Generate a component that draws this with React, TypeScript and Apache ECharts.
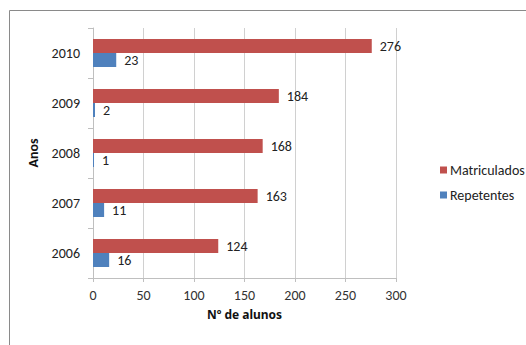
import React, { useEffect, useRef } from "react";
import * as echarts from "echarts";

const categories = ["2006", "2007", "2008", "2009", "2010"];
const matriculados = [124, 163, 168, 184, 276];
const repetentes = [16, 11, 1, 2, 23];
const xTicks = [0, 300, 50];

const FONT = "Carlito, Lato, 'Open Sans', sans-serif";

export default function App() {
  const ref = useRef<HTMLDivElement>(null);
  useEffect(() => {
    document.body.style.margin = "0";
    const chart = echarts.init(ref.current!, undefined, { renderer: "svg" });
    chart.setOption({
      animation: false,
      backgroundColor: "#ffffff",
      textStyle: { fontFamily: FONT },
      graphic: [
        {
          type: "rect",
          shape: { x: 9.5, y: 10.5, width: 530, height: 340 },
          style: { fill: "none", stroke: "#8a8a8a", lineWidth: 1 },
          silent: true,
        },
      ],
      grid: { left: 93, right: 130, top: 28, bottom: 67 },
      legend: {
        data: ["Matriculados", "Repetentes"],
        orient: "vertical",
        left: 435,
        top: 158,
        itemWidth: 7,
        itemHeight: 7,
        itemGap: 11,
        icon: "rect",
        textStyle: { fontFamily: FONT, fontSize: 14, color: "#222", padding: [0, 0, 0, -2] },
      },
      xAxis: {
        type: "value",
        min: xTicks[0],
        max: xTicks[1],
        interval: xTicks[2],
        name: "Nº de alunos",
        nameLocation: "middle",
        nameGap: 30,
        nameTextStyle: { fontFamily: "'Noto Sans', " + FONT, fontSize: 12, fontWeight: "bold", color: "#111" },
        axisLine: { show: true, lineStyle: { color: "#bfbfbf" } },
        axisTick: { show: true, length: 4, lineStyle: { color: "#bfbfbf" } },
        axisLabel: { fontFamily: FONT, fontSize: 14, color: "#333", margin: 10 },
        splitLine: { show: true, lineStyle: { color: "#d0d0d0" } },
      },
      yAxis: {
        type: "category",
        data: categories,
        name: "Anos",
        nameLocation: "middle",
        nameGap: 48,
        nameRotate: 90,
        nameTextStyle: { fontFamily: FONT, fontSize: 14, fontWeight: "bold", color: "#111" },
        axisLine: { show: true, lineStyle: { color: "#bfbfbf" } },
        axisTick: { show: true, length: 5, lineStyle: { color: "#bfbfbf" } },
        axisLabel: { fontFamily: FONT, fontSize: 14, color: "#222", margin: 13 },
      },
      series: [
        {
          name: "Matriculados",
          type: "bar",
          data: matriculados,
          itemStyle: { color: "#C0504D" },
          barGap: "0%",
          barCategoryGap: "44%",
          label: { show: true, position: "right", distance: 8, fontFamily: FONT, fontSize: 14, color: "#222" },
        },
        {
          name: "Repetentes",
          type: "bar",
          data: repetentes,
          itemStyle: { color: "#4F81BD" },
          barGap: "0%",
          barCategoryGap: "44%",
          label: { show: true, position: "right", distance: 8, fontFamily: FONT, fontSize: 14, color: "#222" },
        },
      ],
    });
    return () => chart.dispose();
  }, []);
  return <div ref={ref} style={{ width: 526, height: 345, position: "absolute", left: 0, top: 0 }} />;
}
